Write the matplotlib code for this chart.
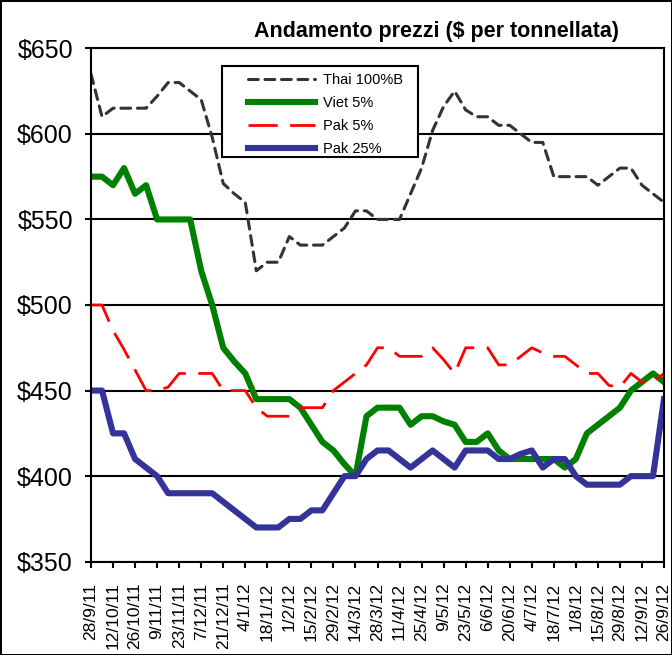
import matplotlib
matplotlib.use("Agg")
import matplotlib.pyplot as plt
from matplotlib.patches import Rectangle
import numpy as np

plt.rcParams['font.family'] = ['Liberation Sans', 'DejaVu Sans']

# weekly prices, 28/9/11 .. 26/9/12 (53 weeks)
thai_100b = [635, 610, 615, 615, 615, 615, 622, 630, 630, 625,
             620, 598, 571, 565, 560, 520, 525, 525, 540, 535,
             535, 535, 540, 545, 555, 555, 550, 550, 550, 565,
             580, 602, 616, 625, 614, 610, 610, 605, 605, 600,
             595, 595, 575, 575, 575, 575, 570, 575, 580, 580,
             570, 565, 560]
viet_5 = [575, 575, 570, 580, 565, 570, 550, 550, 550, 550,
          520, 500, 475, 467, 460, 445, 445, 445, 445, 440,
          430, 420, 415, 407, 400, 435, 440, 440, 440, 430,
          435, 435, 432, 430, 420, 420, 425, 415, 410, 410,
          410, 410, 410, 405, 410, 425, 430, 435, 440, 450,
          455, 460, 455]
pak_5 = [500, 500, 485, 474, 462, 450, 450, 452, 460, 460,
         460, 460, 450, 450, 450, 440, 435, 435, 435, 440,
         440, 440, 450, 455, 460, 465, 475, 475, 470, 470,
         470, 475, 468, 460, 475, 475, 475, 465, 465, 470,
         475, 472, 470, 470, 465, 460, 460, 453, 452, 460,
         455, 455, 460]
pak_25 = [450, 450, 425, 425, 410, 405, 400, 390, 390, 390,
          390, 390, 385, 380, 375, 370, 370, 370, 375, 375,
          380, 380, 390, 400, 400, 410, 415, 415, 410, 405,
          410, 415, 410, 405, 415, 415, 415, 410, 410, 413,
          415, 405, 410, 410, 400, 395, 395, 395, 395, 400,
          400, 400, 445]

date_labels = ['28/9/11', '12/10/11', '26/10/11', '9/11/11', '23/11/11',
               '7/12/11', '21/12/11', '4/1/12', '18/1/12', '1/2/12',
               '15/2/12', '29/2/12', '14/3/12', '28/3/12', '11/4/12',
               '25/4/12', '9/5/12', '23/5/12', '6/6/12', '20/6/12',
               '4/7/12', '18/7/12', '1/8/12', '15/8/12', '29/8/12',
               '12/9/12', '26/9/12']
y_ticks = [350, 400, 450, 500, 550, 600, 650]
y_labels = ['$350', '$400', '$450', '$500', '$550', '$600', '$650']

weeks = np.arange(len(thai_100b))

fig = plt.figure(figsize=(6.72, 6.55), dpi=100)
fig.patch.set_edgecolor('black')
fig.patch.set_linewidth(2)
ax = fig.add_axes([91 / 672, 1 - 561.7 / 655, 573 / 672, 513.4 / 655])

ax.plot(weeks, thai_100b, color='#333333', lw=2.2, ls=(0, (3.2, 2.2)),
        dash_capstyle='round', label='Thai 100%B')
ax.plot(weeks, viet_5, color='#008000', lw=4.4, solid_joinstyle='round',
        label='Viet 5%')
ax.plot(weeks, pak_5, color='#FF0000', lw=2.0, ls=(0, (10.5, 4.5)),
        label='Pak 5%')
ax.plot(weeks, pak_25, color='#333399', lw=4.4, solid_joinstyle='round',
        label='Pak 25%')

ax.set_xlim(0, weeks[-1])
ax.set_ylim(350, 650)
ax.set_xticks(weeks[::2])
ax.set_xticklabels(date_labels, rotation=90, fontsize=12.5, va='top', ha='center')
ax.set_yticks(y_ticks)
ax.set_yticklabels(y_labels, fontsize=18)
ax.tick_params(axis='y', direction='out', length=4, width=1.5, pad=9)
ax.tick_params(axis='x', direction='out', length=4, width=1.5, pad=11)
ax.yaxis.grid(True, color='black', lw=1.5)
ax.set_axisbelow(True)
for s in ax.spines.values():
    s.set_linewidth(1.5)

ax.add_patch(Rectangle((0.2286, 0.788), 0.3421, 0.1775, transform=ax.transAxes,
                       facecolor='white', edgecolor='black', lw=1.5, zorder=4))
ax.legend(loc='upper left', bbox_to_anchor=(0.274, 0.952), frameon=False,
          borderpad=0, borderaxespad=0, fontsize=10.5, handlelength=4.6,
          handletextpad=0.55, labelspacing=0.62).set_zorder(5)

fig.text(437 / 672, 1 - 31 / 655, 'Andamento prezzi ($ per tonnellata)',
         fontsize=15.5, fontweight='bold', ha='center', va='center')

fig.savefig('out.png', dpi=100)
